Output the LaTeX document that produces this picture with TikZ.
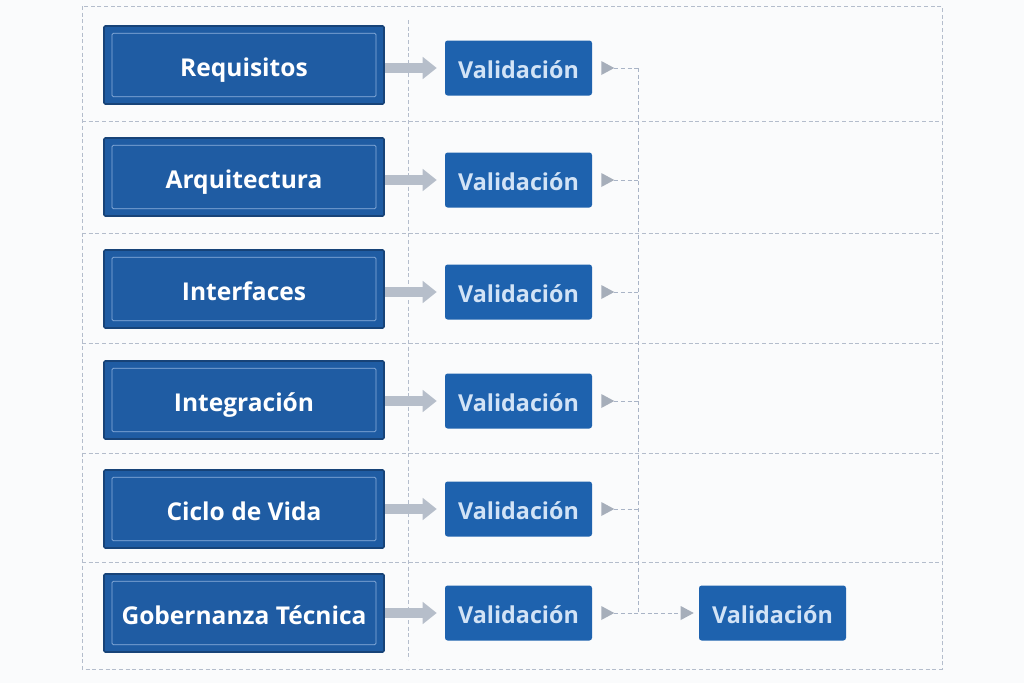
\documentclass[tikz,border=0pt]{standalone}
\usepackage{fontspec}
\setmainfont{Open Sans}
\usetikzlibrary{arrows.meta}
\definecolor{bgc}{HTML}{FAFBFC}
\definecolor{framec}{HTML}{B4BDCC}
\definecolor{mainfill}{HTML}{1F5CA3}
\definecolor{mainedge}{HTML}{174378}
\definecolor{innerc}{HTML}{8DB0DC}
\definecolor{valfill}{HTML}{1E62AE}
\definecolor{valtext}{HTML}{D2E3F6}
\definecolor{grayarrow}{HTML}{B6BECA}
\definecolor{tric}{HTML}{A6AEBA}
\definecolor{dashc}{HTML}{A9B4C6}
\tikzset{
  mainbox/.style={draw=mainedge, line width=1.2pt, fill=mainfill, minimum width=210pt, minimum height=58.5pt,
    text=white, font=\bfseries\fontsize{18.4}{22}\selectfont, inner sep=0pt, text height=16.5pt, text depth=0pt, rounded corners=1pt,
    path picture={\draw[innerc, line width=0.6pt] ([shift={(6pt,-5.5pt)}]path picture bounding box.north west) rectangle ([shift={(-6pt,5.5pt)}]path picture bounding box.south east);}},
  valbox/.style={fill=valfill, minimum width=110.25pt, minimum height=41.25pt, rounded corners=2pt,
    text=valtext, font=\bfseries\fontsize{17.5}{20}\selectfont, inner sep=0pt, text height=15.5pt, text depth=0pt},
  frameline/.style={draw=framec, line width=0.7pt, dash pattern=on 3pt off 2pt},
  flowarrow/.style={draw=grayarrow, line width=8pt, -{Triangle[length=10.5pt,width=16pt]}, shorten >=6pt},
  dashconn/.style={draw=dashc, line width=0.7pt, dash pattern=on 3pt off 2pt},
  marker/.style={fill=tric},
}
\begin{document}
\begin{tikzpicture}[x=0.75pt,y=-0.75pt]
\fill[bgc] (0,0) rectangle (1024,683);
\useasboundingbox (0,0) rectangle (1024,683);
% frame
\draw[frameline] (82,6) rectangle (942,669);
\foreach \yy in {121,233,343,453,562} {\draw[frameline] (82,\yy) -- (942,\yy);}
\draw[frameline] (408,20) -- (408,660);
% main boxes
\node[mainbox] (L1) at (244,65) {Requisitos};
\node[mainbox] (L2) at (244,177) {Arquitectura};
\node[mainbox] (L3) at (244,289) {Interfaces};
\node[mainbox] (L4) at (244,400) {Integración};
\node[mainbox] (L5) at (244,509) {Ciclo de Vida};
\node[mainbox] (L6) at (244,613) {Gobernanza Técnica};
% validation boxes
\node[valbox] (V1) at (518.5,68) {Validación};
\node[valbox] (V2) at (518.5,180) {Validación};
\node[valbox] (V3) at (518.5,292) {Validación};
\node[valbox] (V4) at (518.5,401) {Validación};
\node[valbox] (V5) at (518.5,509) {Validación};
\node[valbox] (V6) at (518.5,613) {Validación};
\node[valbox] (F) at (772.5,613) {Validación};
\coordinate (M) at (638,68);
% arrows and markers
\foreach \i in {1,...,6} {
  \draw[flowarrow] (L\i.east |- V\i.west) -- (V\i.west);
  \fill[marker] ([xshift=6.75pt,yshift=5.25pt]V\i.east) -- ([xshift=16.5pt]V\i.east) -- ([xshift=6.75pt,yshift=-5.25pt]V\i.east) -- cycle;
}
\foreach \i in {1,...,5} {
  \draw[dashconn] ([xshift=16.5pt]V\i.east) -- (V\i.east -| M);
}
\draw[dashconn] (V1.east -| M) -- (V6.east -| M);
\draw[dashconn] ([xshift=16.5pt]V6.east) -- ([xshift=-13.5pt]F.west);
\fill[marker] ([xshift=-13.5pt,yshift=5.25pt]F.west) -- ([xshift=-3.75pt]F.west) -- ([xshift=-13.5pt,yshift=-5.25pt]F.west) -- cycle;
\end{tikzpicture}
\end{document}
